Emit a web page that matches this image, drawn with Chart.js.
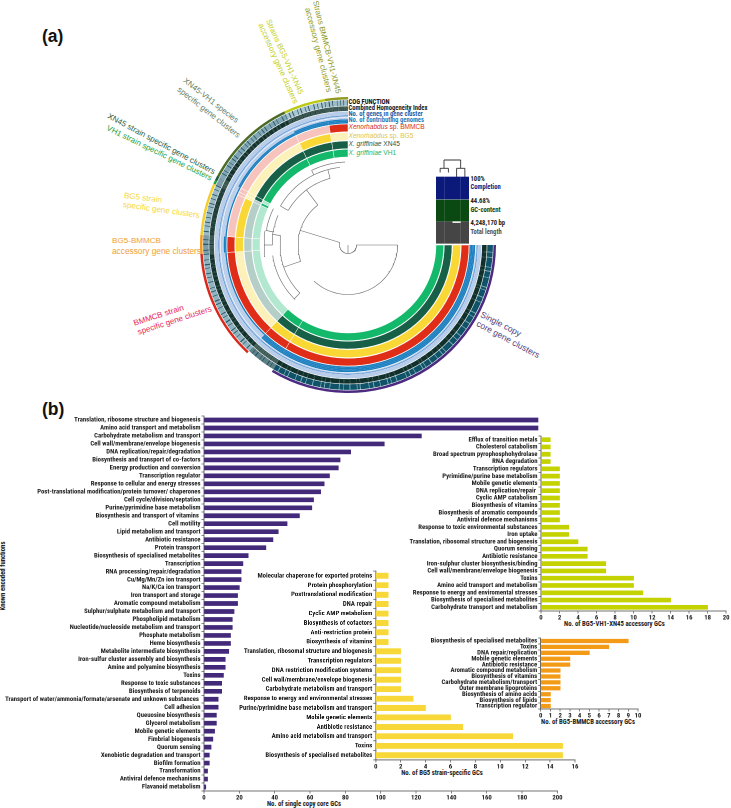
<!DOCTYPE html>
<html><head><meta charset="utf-8">
<script src="https://cdn.jsdelivr.net/npm/chart.js@4/dist/chart.umd.min.js"></script>
<style>
html,body{margin:0;padding:0;background:#fff;width:731px;height:808px;overflow:hidden}
canvas{position:absolute}
.t{position:absolute;white-space:nowrap;line-height:1;font-family:"Liberation Sans",Arial,sans-serif}
.n{font-family:"Roboto Condensed","Liberation Sans",Arial,sans-serif;font-weight:700}
</style></head><body>
<script>
// ---------- Panel (b) data ----------
const coreCats=["Translation, ribosome structure and biogenesis","Amino acid transport and metabolism","Carbohydrate metabolism and transport","Cell wall/membrane/envelope biogenesis","DNA replication/repair/degradation","Biosynthesis and transport of co-factors","Energy production and conversion","Transcription regulator","Response to cellular and energy stresses","Post-translational modification/protein turnover/ chaperones","Cell cycle/division/septation","Purine/pyrimidine base metabolism","Biosynthesis and transport of vitamins ","Cell motility","Lipid metabolism and transport","Antibiotic resistance","Protein transport","Biosynthesis of specialised metabolites","Transcription","RNA processing/repair/degradation","Cu/Mg/Mn/Zn ion transport","Na/K/Ca ion transport","Iron transport and storage","Aromatic compound metabolism","Sulphur/sulphate metabolism and transport","Phospholipid metabolism","Nucleotide/nucleoside metabolism and transport","Phosphate metabolism","Heme biosynthesis","Metabolite intermediate biosynthesis","Iron-sulfur cluster assembly and biosynthesis","Amine and polyamine biosynthesis","Toxins","Response to toxic substances","Biosynthesis of terpenoids","Transport of water/ammonia/formate/arsenate and unknown substances ","Cell adhesion","Queuosine biosynthesis","Glycerol metabolism","Mobile genetic elements","Fimbrial biogenesis","Quorum sensing","Xenobiotic degradation and transport","Biofilm formation","Transformation","Antiviral defence mechanisms","Flavanoid metabolism"];
const coreVals=[189,189,123,102,83,77,76,71,68,66,62,61,54,47,42,39,35,25,22,21,21,20,19,19,17,16,16,15,15,14,12,12,11,10,10,8,8,7,7,6,5,4,3,3,2,2,1];
const bg5Cats=["Molecular chaperone for exported proteins","Protein phosphorylation","Posttranslational modification","DNA repair","Cyclic AMP metabolism","Biosynthesis of cofactors","Anti-restriction protein","Biosynthesis of vitamins","Translation, ribosomal structure and biogenesis","Transcription regulators","DNA restriction modification systems","Cell wall/membrane/envelope biogenesis","Carbohydrate metabolism and transport","Response to energy and environmental stresses","Purine/pyrimidine base metabolism and transport","Mobile genetic elements","Antibiotic resistance","Amino acid metabolism and transport","Toxins","Biosynthesis of specialised metabolites"];
const bg5Vals=[1,1,1,1,1,1,1,1,2,2,2,2,2,3,4,6,7,11,15,15];
const trioCats=["Efflux of transition metals","Cholesterol catabolism","Broad spectrum pyrophosphohydrolase","RNA degradation","Transcription regulators","Pyrimidine/purine base metabolism","Mobile genetic elements","DNA replication/repair ","Cyclic AMP catabolism","Biosynthesis of vitamins","Biosynthesis of aromatic compounds","Antiviral defence mechanisms","Response to toxic environmental substances","Iron uptake","Translation, ribosomal structure and biogenesis","Quorum sensing","Antibiotic resistance","Iron-sulphur cluster biosynthesis/binding","Cell wall/membrane/envelope biogenesis","Toxins","Amino acid transport and metabolism","Response to energy and enviromental stresses","Biosynthesis of specialised metabolites","Carbohydrate transport and metabolism"];
const trioVals=[1,1,1,1,2,2,2,2,2,2,2,2,3,3,4,5,5,7,7,10,10,11,14,18];
const pairCats=["Biosynthesis of specialised metabolites","Toxins","DNA repair/replication","Mobile genetic elements","Antibiotic resistance","Aromatic compound metabolism","Biosynthesis of vitamins","Carbohydrate metabolism/transport","Outer membrane lipoproteins","Biosynthesis of amino acids","Biosynthesis of lipids","Transcription regulator"];
const pairVals=[9,7,5,3,3,2,2,2,2,1,1,1];

// ---------- Panel (a) data ----------
// gene-cluster bins clockwise from 3 o'clock (sizes read as arc degrees)
const binNames=["Single copy core","Other core","BMMCB","BG5-BMMCB","BG5","VH1","XN45","XN45-VH1","BG5-VH1-XN45","BMMCB-VH1-XN45"];
const binSizes=[121,12,43.5,7.5,20.5,1.5,2,36.5,16.5,9];
const inVH1   =[1,1,0,0,0,1,0,1,1,1];
const inXN45  =[1,1,0,0,0,0,1,1,1,1];
const inBG5   =[1,1,0,1,1,0,0,0,1,0];
const inBMMCB =[1,1,1,1,0,0,0,0,0,1];
const contributing=[4,4,1,2,1,1,1,2,3,3];
const binBarColors=["#4b2a80","rgba(0,0,0,0)","#d9281c","#f09a20","#f2cf2f","#23a03a","#1f5a3e","#4b6b24","#bcc914","#8f9a1e"];
const cogWidths=[
 [3,.2,2,.3,4,.2,1.5,.3,2.5,.2,4,.3,1,.2,3,.3,2,.2,5,.3,1.5,.2,3,.3,2.5,.2,3.5,.3,2,.2,2.5,.3,4,.2,1.5,.3,2.5,.2,3,.3,2.7,.2,1.2,.3,3.4,.2,2,.3,1.6,.2,4.2,.3,2.2,.2,1.3,.3,3.1,.2,2.6,.3,1.8,.2,3.6,.3,1.1,.2,2.9,.3,2.4,.2,1.7,.3,3.8,.2,2.1,.3,1.4,.2,3.3,.3,2.8,.2,1.9,.3,2.3,.2,3.2,.3,1.5,.2,2.6,.3,2],
 [1.2,.4,.8,.5,1.6,.4,.7,.4,1.4,.5,.9,.4,1.1],
 [1.1,.4,1.6,.3,.8,.5,1.8,.3,1.3,.4,.9,.4,1.7,.3,1.1,.5,1.5,.3,1,.4,2,.3,1.2,.4,.8,.5,1.5,.3,1.3,.4,1,.3,1.8,.4,1.4,.3,1.1,.4,1.6,.3,.9,.5,1.3,.3,1.7,.4],
 [.7,.3,1.1,.4,.8,.3,1],
 [1,.4,1.5,.3,.9,.4,1.3,.3,1.2,.4,1.7,.3,.8,.4,1.3,.3,1.1,.4,1.4,.3,1,.4],
 [1],[1],
 [1.2,.4,.8,.3,1.6,.4,.9,.3,1.2,.4,.8,.4,1.8,.3,1,.4,1.4,.3,.8,.4,1.3,.3,.9,.4,1.6,.3,1.1,.4,.8,.4,1.5,.3,1.2,.4,.9,.3,1.7,.4,1,.3],
 [1,.4,.8,.4,1.4,.3,.8,.4,1.2,.3,.8,.4,1.5,.4,.9,.3,1.1,.4,.8,.3],
 [1.2,.5,.9,.4,1.5,.3,1,.4,.8,.4,1.2,.3]
];
const treeArcs=[[8.5,90,287],[49.5,90,223],[50,251,323],[69,300,345],[78,300,334],[78,334,354],[83,334,358],[68,225,278],[76,224,262],[76,270,293],[84,262,280],[83,280,296]];
const treeSpokes=[[287,8.5,50],[90,8.5,49.5],[180,0,8.5],[251,50,68],[323,50,69],[300,69,78],[345,69,78],[334,78,83],[225,68,76],[278,68,76],[280,76,83],[270,76,84]];

// Layer bars (share of each layer's maximum), one per genome
const completion=[1,1,1,1];
const gcContent=[1,1,1,1];
const totalLength=[1,1,.93,1];
const heatTree=[[[.47,84],[2.49,84]],[[.47,84],[.47,75.7]],[[2.49,84],[2.49,75.7]],[[0,75.7],[1,75.7]],[[2,75.7],[3,75.7]],[[0,75.7],[0,71.5]],[[1,75.7],[1,71.5]],[[2,75.7],[2,67]],[[3,75.7],[3,67]]];

// ---------- Text ----------
const N='"Roboto Condensed","Liberation Sans",Arial,sans-serif';
const BLUE="#1b7fc0",LIGHT="#b7cdea";
const NS=6.7;
function txt(x,y,html,o={}){
  const d=document.createElement('div');
  d.className='t'+(o.narrow?' n':'');
  d.innerHTML=html;
  d.style.left=x+'px';d.style.top=y+'px';
  d.style.fontSize=(o.size||8.3)+'px';
  d.style.color=o.color||'#222';
  if(o.bold)d.style.fontWeight='700';
  if(o.center){d.style.transform=`translate(-50%,-50%) rotate(${o.rot||0}deg)`;d.style.transformOrigin='center';}
  else{d.style.transform=`translateY(-50%) rotate(${o.rot||0}deg)`;d.style.transformOrigin='left center';}
  document.body.appendChild(d);
}
const curved=[
 [315,1,"Strains BMMCB-VH1-XN45","#8f9a1e",76,7.8],[307,8,"accessory gene clusters","#8f9a1e",75.5,8.1],
 [268,20,"Strains BG5-VH1-XN45","#c3ce1c",66,7.7],[260,24,"accessory gene clusters","#c3ce1c",66,8.1],
 [184,80,"XN45-VH1 species","#5f7d63",38,8],[178,89,"specific gene clusters","#5f7d63",38,8.1],
 [108,116,"XN45 strain specific gene clusters","#1f5a3e",28,8],[107,128,"VH1 strain specific gene clusters","#25a23c",26,8],
 [124,196,"BG5 strain","#f5d844",7,8.1],[123,205,"specific gene clusters","#f5d844",8,8.1],
 [112,241,"BG5-BMMCB","#efa035",0,8.1],[112,250.5,"accessory gene clusters","#efa035",0,8.3],
 [134,324,"BMMCB strain","#e8245a",-18,8.1],[138,333,"specific gene clusters","#e8245a",-18,8.1],
 [481,314,"Single copy","#54407c",27,8.6],[477,323,"core gene clusters","#54407c",28,8.6]
];
curved.forEach(c=>txt(c[0],c[1],c[2],{color:c[3],rot:c[4],size:c[5]}));
txt(42,37,"(a)",{size:17.5,bold:true,color:'#111'});
txt(42,410,"(b)",{size:17.5,bold:true,color:'#111'});
[[102,"COG FUNCTION","#111"],[108,"Combined Homogeneity Index","#222"],[113.5,"No. of genes in gene cluster","#2b5ea8"],[119.5,"No. of contributing genomes","#1f7fbf"]]
 .forEach(l=>txt(348.5,l[0],l[1],{narrow:true,color:l[2],size:6.6}));
const genomeLegend=[[127,"<i>Xenorhabdus</i> sp. BMMCB","#d9301c"],[135.5,"<i>Xenorhabdus</i> sp. BG5","#dcc44c"],[144,"<i>X. griffiniae</i> XN45","#1f5a45"],[152.5,"<i>X. griffiniae</i> VH1","#17b56b"]];
genomeLegend.forEach(l=>txt(348.5,l[0],l[1],{color:l[2],size:6.6}));
[[178.5,"100%","#222"],[187,"Completion","#1a1a78"],[201,"44.68%","#222"],[209.5,"GC-content","#0c4a1a"],[223,"4,248,170 bp","#222"],[232,"Total length","#555"]]
 .forEach(l=>txt(470.5,l[0],l[1],{narrow:true,color:l[2],size:6.6}));
txt(3,576,"Known encoded functions",{narrow:true,center:true,rot:-90,size:NS,color:'#222'});
txt(304,804,"No. of single copy core GCs",{narrow:true,center:true,size:NS});
txt(442,772.7,"No. of BG5 strain-specific GCs",{narrow:true,center:true,size:NS});
txt(614.5,623.7,"No. of BG5-VH1-XN45 accessory GCs",{narrow:true,center:true,size:NS});
txt(588,721.7,"No. of BG5-BMMCB accessory GCs",{narrow:true,center:true,size:NS});

function canvas(l,t,w,h){const c=document.createElement('canvas');c.style.left=l+'px';c.style.top=t+'px';c.style.width=w+'px';c.style.height=h+'px';c.width=w;c.height=h;document.body.appendChild(c);return c;}

// ---------- Bar charts ----------
function barChart(o){
  const c=canvas(o.left,o.top,o.yw+o.pw+o.pr,o.ph+13);
  new Chart(c,{type:'bar',data:{labels:o.cats,datasets:[{data:o.vals,backgroundColor:o.color,barThickness:o.bt,borderWidth:0}]},
   options:{indexAxis:'y',responsive:false,animation:false,devicePixelRatio:2,
    layout:{autoPadding:false,padding:{left:0,top:0,right:o.pr,bottom:0}},
    plugins:{legend:{display:false},tooltip:{enabled:false},title:{display:false}},
    scales:{
     y:{afterFit:s=>{s.width=o.yw},grid:{display:true,drawOnChartArea:false,tickLength:2.5,tickWidth:.6,tickColor:'#333'},border:{color:'#444',width:.8},
        ticks:{autoSkip:false,padding:1,color:'#1c1c1c',font:{family:N,weight:'bold',size:NS},maxRotation:0,minRotation:0}},
     x:{afterFit:s=>{s.height=13},min:0,max:o.max,grid:{display:true,drawOnChartArea:false,tickLength:2.5,tickWidth:.6,tickColor:'#333'},border:{color:'#444',width:.8},
        ticks:{stepSize:o.step,autoSkip:false,padding:.5,color:'#1c1c1c',font:{family:N,weight:'bold',size:NS},maxRotation:0,minRotation:0}}
    }}});
}
barChart({cats:coreCats,vals:coreVals,color:'#43297a',left:0,top:410.65,yw:204,pw:355,pr:4,ph:380.7,max:200,step:20,bt:4});
barChart({cats:bg5Cats,vals:bg5Vals,color:'#f7d838',left:230,top:566.2,yw:145.3,pw:199.4,pr:4,ph:193.6,max:16,step:2,bt:5.2});
barChart({cats:trioCats,vals:trioVals,color:'#c4d200',left:370,top:431.2,yw:171,pw:186.3,pr:3,ph:180.2,max:20,step:2,bt:4});
barChart({cats:pairCats,vals:pairVals,color:'#f39a17',left:430,top:632.5,yw:110.7,pw:97.3,pr:4,ph:76.4,max:10,step:1,bt:3.6});

// ---------- Circular rings (doughnut) ----------
const RING_VH1=["#14b86b","#b2e8d0"],RING_XN=["#175f46","#b5cec7"],RING_BG=["#f9d835","#fcf1b8"],RING_BM=["#e02d18","#f6c4bc"];
const GREY=[["#0f5368","#7fabb8"],["#5d7f86","#26505c"],["#8fb2bf","#27596a"],["#7b9ca8","#2b5868"],["#9abbc6","#2c5c6c"],["#7b9ca8","#7b9ca8"],["#7b9ca8","#7b9ca8"],["#7fa6b4","#2a5a6a"],["#a8c5cf","#2a5a6a"],["#9dbcc7","#2a5a6a"]];
const HOMOG=[["#10302b","#10302b"],["#44605b","#2a4843"],["#14332e","#1b3a35"],["#3a5752","#1b3a35"],["#1f3e39","#14332e"],["#3a5752","#3a5752"],["#3a5752","#3a5752"],["#14332e","#24433e"],["#37544f","#16352f"],["#3f5b56","#24433e"]];
function stripes(pal){
  const data=[],colors=[];
  cogWidths.forEach((w,g)=>{const tot=w.reduce((a,b)=>a+b,0);w.forEach((v,i)=>{data.push(v*binSizes[g]/tot);colors.push(pal[g][i%2]);});});
  return {data,colors};
}
function spacer(w){return {data:[1],backgroundColor:'rgba(0,0,0,0)',borderWidth:0,weight:w};}
function genome(arr,pal,w){return {data:binSizes,backgroundColor:arr.map(v=>v?pal[0]:pal[1]),borderColor:'#fff',borderWidth:.5,weight:w};}
function plain(colors,w){return {data:binSizes,backgroundColor:colors,borderWidth:0,weight:w};}
const cog=stripes(GREY),hom=stripes(HOMOG);
const contribLayer=i=>plain(contributing.map(v=>v>i?BLUE:LIGHT),1.4);
const ringDatasets=[
  plain(binBarColors,2.5),spacer(.6),
  {data:cog.data,backgroundColor:cog.colors,borderWidth:0,weight:5.6},spacer(.6),
  {data:hom.data,backgroundColor:hom.colors,borderWidth:0,weight:4.6},spacer(.6),
  plain(binSizes.map(()=>LIGHT),4),plain(binSizes.map(()=>"#3079c6"),.6),plain(binSizes.map(()=>LIGHT),1.1),spacer(.6),
  contribLayer(3),contribLayer(2),contribLayer(1),contribLayer(0),spacer(.6),
  genome(inBMMCB,RING_BM,7.7),spacer(.6),
  genome(inBG5,RING_BG,8),spacer(.6),
  genome(inXN45,RING_XN,7.7),spacer(.6),
  genome(inVH1,RING_VH1,7.7)
];
new Chart(canvas(198,95,300,300),{type:'doughnut',data:{labels:[],datasets:ringDatasets},
 options:{responsive:false,animation:false,devicePixelRatio:2,rotation:90,circumference:270,radius:148,cutout:'59.46%',
  layout:{padding:0},plugins:{legend:{display:false},tooltip:{enabled:false}}}});

// ---------- Dendrogram through a hidden linear plot centred on the rings ----------
const pol=(r,a)=>({x:r*Math.sin(a*Math.PI/180),y:r*Math.cos(a*Math.PI/180)});
const treeSets=[];
treeArcs.forEach(([r,a0,a1])=>{const pts=[];for(let a=a0;a<a1;a+=2)pts.push(pol(r,a));pts.push(pol(r,a1));treeSets.push(pts);});
treeSpokes.forEach(([a,r0,r1])=>treeSets.push([pol(r0,a),pol(r1,a)]));
new Chart(canvas(198,95,300,300),{type:'scatter',data:{datasets:treeSets.map(d=>({data:d,showLine:true,pointRadius:0,borderColor:'#666',borderWidth:.6}))},
 options:{responsive:false,animation:false,devicePixelRatio:2,layout:{padding:0,autoPadding:false},plugins:{legend:{display:false},tooltip:{enabled:false}},
  scales:{x:{display:false,min:-150,max:150},y:{display:false,min:-150,max:150}}}});

// ---------- Layer bars with their small tree ----------
const layerBase=[45,23,.7],layerHeight=[22,21,21.6];
const layerBars=(vals,k,color)=>({type:'bar',data:vals.map((v,i)=>({x:i,y:[layerBase[k],layerBase[k]+layerHeight[k]*v]})),backgroundColor:color,barThickness:7.6,borderWidth:0});
new Chart(canvas(436,158,33,86),{data:{datasets:[
   layerBars(completion,0,'#0b1a7a'),layerBars(gcContent,1,'#0a4a12'),layerBars(totalLength,2,'#454545'),
   ...heatTree.map(s=>({type:'line',data:s.map(p=>({x:p[0],y:p[1]})),borderColor:'#333',borderWidth:.9,pointRadius:0}))
  ]},
 options:{responsive:false,animation:false,devicePixelRatio:2,grouped:false,layout:{padding:0,autoPadding:false},plugins:{legend:{display:false},tooltip:{enabled:false}},
  scales:{x:{type:'linear',display:false,min:-.5,max:3.5,offset:false},y:{display:false,min:0,max:86}}}});
</script>
</body></html>
